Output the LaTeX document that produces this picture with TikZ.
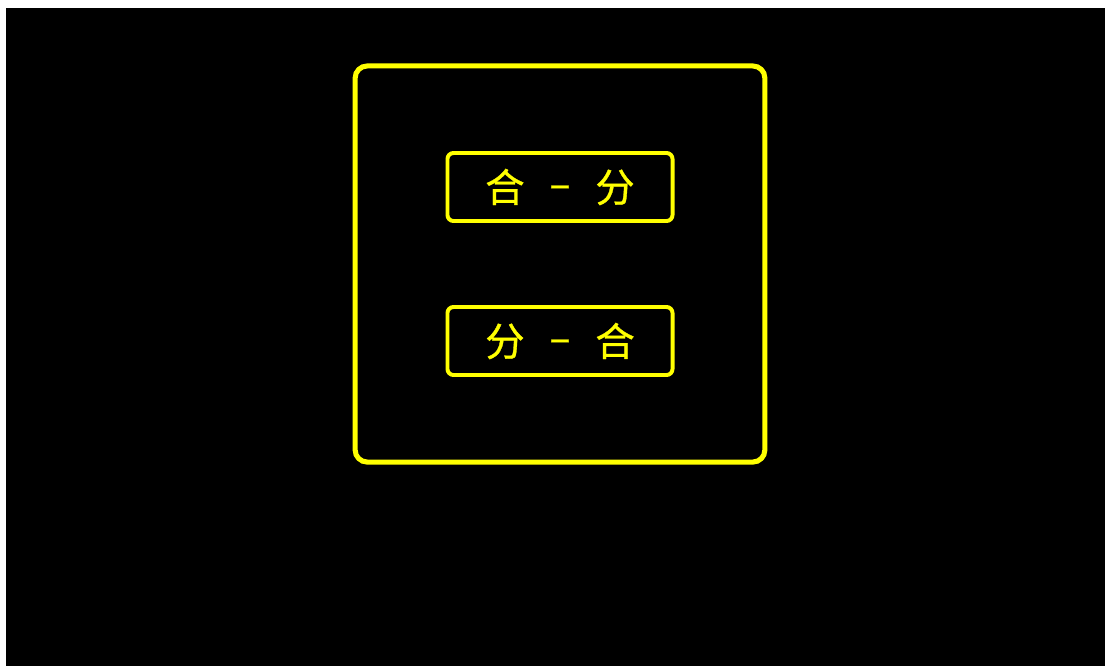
\documentclass[tikz,border=0pt]{standalone}
\usepackage{fontspec}
\newfontfamily\cjk{Noto Sans CJK SC}[FakeBold=0.8]
\definecolor{Bright}{HTML}{FFFF00}
\usetikzlibrary{positioning}
\tikzset{
  frame/.style={
    rectangle, rounded corners=0.3cm, draw=Bright, line width=3.6pt,
    minimum width=10.24cm, minimum height=9.9cm
  },
  pair/.style={
    rectangle, rounded corners=0.15cm, draw=Bright, line width=2.8pt,
    minimum width=5.625cm, minimum height=1.7cm, inner sep=0pt,
    text=Bright, font=\cjk\fontsize{28}{32}\selectfont
  },
}
\newcommand{\gap}{\hspace{0.62cm}}
\newcommand{\linkdash}{\raisebox{0.1cm}{–}}

\begin{document}
\begin{tikzpicture}[x=0.025cm, y=-0.025cm]
\useasboundingbox (0,0) rectangle (1105,666);
\fill[black] (6,8) rectangle (1105,666);

\node[pair] at (560,187) (hefen) {合\gap\linkdash\gap{}分};
\node[pair] at (560,341) (fenhe) {分\gap\linkdash\gap{}合};

% outer frame
\node[frame] at (560,264) (outer) {};

\end{tikzpicture}
\end{document}
